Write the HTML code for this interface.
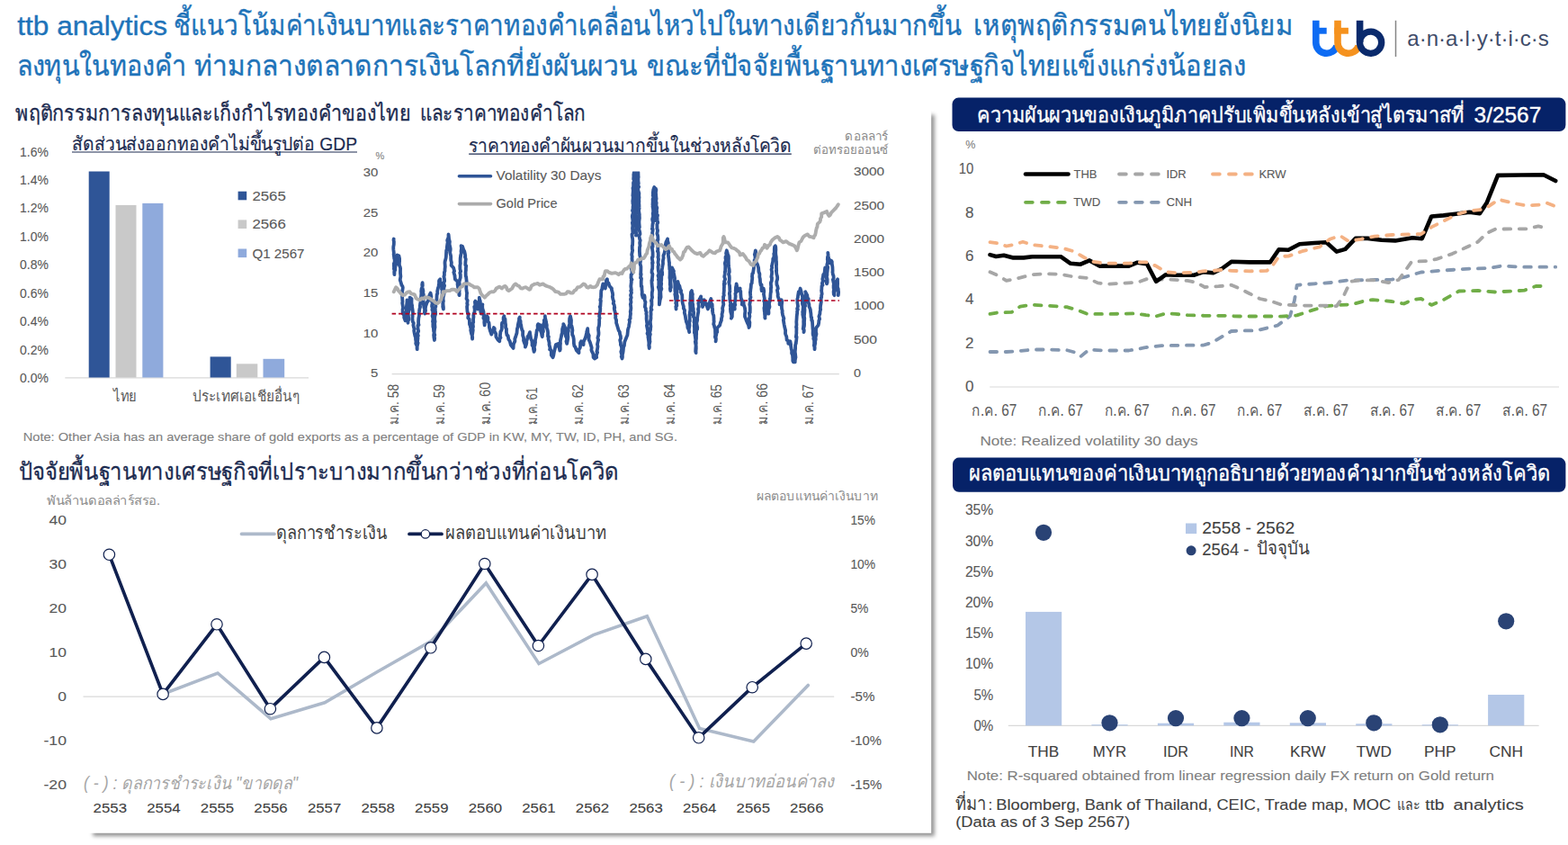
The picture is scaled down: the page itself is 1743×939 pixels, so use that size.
<!DOCTYPE html>
<html lang="th"><head><meta charset="utf-8"><title>ttb analytics</title>
<style>

html,body{margin:0;padding:0;background:#fff}
svg{display:block}
svg text{font-family:"Liberation Sans",sans-serif;white-space:pre}
</style></head>
<body>
<svg width="1743" height="939" viewBox="0 0 1743 939">
<rect width="1743" height="939" fill="#ffffff"/>
<defs><filter id="blur" x="-5%" y="-5%" width="110%" height="110%"><feGaussianBlur stdDeviation="1.9"/></filter></defs>
<rect x="103.4" y="127.6" width="935.4" height="801.6" fill="#000000" fill-opacity="0.42" filter="url(#blur)"/>
<rect x="96.0" y="120.0" width="939.2" height="805.8" fill="#ffffff"/>
<text x="19.3" textLength="166.7" lengthAdjust="spacingAndGlyphs" stroke="#1e73b9" stroke-width="0.35" y="39.3" font-size="29.00" fill="#1e73b9">ttb analytics</text>
<text class="th" x="193.0" y="39.4" font-size="31.70" fill="#1e73b9" stroke="#1e73b9" stroke-width="0.4" textLength="876.8" lengthAdjust="spacingAndGlyphs">ชี้แนวโน้มค่าเงินบาทและราคาทองคำเคลื่อนไหวไปในทางเดียวกันมากขึ้น</text>
<text class="th" x="1082.3" y="39.4" font-size="31.70" fill="#1e73b9" stroke="#1e73b9" stroke-width="0.4" textLength="354.7" lengthAdjust="spacingAndGlyphs">เหตุพฤติกรรมคนไทยยังนิยม</text>
<text class="th" x="18.6" y="83.5" font-size="31.70" fill="#1e73b9" stroke="#1e73b9" stroke-width="0.4" textLength="188.8" lengthAdjust="spacingAndGlyphs">ลงทุนในทองคำ</text>
<text class="th" x="215.9" y="83.5" font-size="31.70" fill="#1e73b9" stroke="#1e73b9" stroke-width="0.4" textLength="493.3" lengthAdjust="spacingAndGlyphs">ท่ามกลางตลาดการเงินโลกที่ยังผันผวน</text>
<text class="th" x="718.8" y="83.5" font-size="31.70" fill="#1e73b9" stroke="#1e73b9" stroke-width="0.4" textLength="665.9" lengthAdjust="spacingAndGlyphs">ขณะที่ปัจจัยพื้นฐานทางเศรษฐกิจไทยแข็งแกร่งน้อยลง</text>
<g fill="none" stroke-linecap="butt"><path d="M1462.8 22.8 V47.4 A11.85 11.85 0 0 0 1486 50.8" stroke="#0d6bf3" stroke-width="7.6"/><path d="M1459 34.25 H1474.7" stroke="#0d6bf3" stroke-width="6.9"/><path d="M1487 22.8 V47.4 A11.85 11.85 0 0 0 1510.2 50.8" stroke="#f5921e" stroke-width="7.6"/><path d="M1483.2 34.25 H1498.9" stroke="#f5921e" stroke-width="6.9"/><path d="M1511.6 22.8 V47.2" stroke="#0a2a6c" stroke-width="7.6"/><circle cx="1523.6" cy="47.2" r="12.1" stroke="#0a2a6c" stroke-width="7.3"/></g>
<line x1="1551.5" y1="22.8" x2="1551.5" y2="63.0" stroke="#858585" stroke-width="1.5"/>
<text x="1564.3" textLength="157.5" lengthAdjust="spacingAndGlyphs" y="51.4" font-size="24.00" fill="#3f4c69">a·n·a·l·y·t·i·c·s</text>
<text class="th" x="17.2" y="134.0" font-size="23.60" fill="#1c2b50" stroke="#1c2b50" stroke-width="0.3" textLength="439.6" lengthAdjust="spacingAndGlyphs">พฤติกรรมการลงทุนและเก็งกำไรทองคำของไทย</text>
<text class="th" x="466.7" y="134.0" font-size="23.60" fill="#1c2b50" stroke="#1c2b50" stroke-width="0.3" textLength="183.9" lengthAdjust="spacingAndGlyphs">และราคาทองคำโลก</text>
<text class="th" x="80.0" y="167.0" font-size="21.09" fill="#1c2b50" stroke="#1c2b50" stroke-width="0.2" textLength="317.0" lengthAdjust="spacingAndGlyphs">สัดส่วนส่งออกทองคำไม่ขึ้นรูปต่อ GDP</text>
<line x1="80.0" y1="169.0" x2="397.0" y2="169.0" stroke="#1c2b50" stroke-width="1.2"/>
<text class="th" x="521.2" y="168.8" font-size="21.26" fill="#1c2b50" stroke="#1c2b50" stroke-width="0.2" textLength="358.6" lengthAdjust="spacingAndGlyphs">ราคาทองคำผันผวนมากขึ้นในช่วงหลังโควิด</text>
<line x1="521.2" y1="171.2" x2="879.8" y2="171.2" stroke="#1c2b50" stroke-width="1.3"/>
<text x="22.0" textLength="31.8" lengthAdjust="spacingAndGlyphs" stroke="#595959" stroke-width="0.1" y="173.5" font-size="14.20" fill="#595959">1.6%</text>
<text x="22.0" textLength="31.8" lengthAdjust="spacingAndGlyphs" stroke="#595959" stroke-width="0.1" y="204.9" font-size="14.20" fill="#595959">1.4%</text>
<text x="22.0" textLength="31.8" lengthAdjust="spacingAndGlyphs" stroke="#595959" stroke-width="0.1" y="236.3" font-size="14.20" fill="#595959">1.2%</text>
<text x="22.0" textLength="31.8" lengthAdjust="spacingAndGlyphs" stroke="#595959" stroke-width="0.1" y="267.8" font-size="14.20" fill="#595959">1.0%</text>
<text x="22.0" textLength="31.8" lengthAdjust="spacingAndGlyphs" stroke="#595959" stroke-width="0.1" y="299.2" font-size="14.20" fill="#595959">0.8%</text>
<text x="22.0" textLength="31.8" lengthAdjust="spacingAndGlyphs" stroke="#595959" stroke-width="0.1" y="330.6" font-size="14.20" fill="#595959">0.6%</text>
<text x="22.0" textLength="31.8" lengthAdjust="spacingAndGlyphs" stroke="#595959" stroke-width="0.1" y="362.0" font-size="14.20" fill="#595959">0.4%</text>
<text x="22.0" textLength="31.8" lengthAdjust="spacingAndGlyphs" stroke="#595959" stroke-width="0.1" y="393.5" font-size="14.20" fill="#595959">0.2%</text>
<text x="22.0" textLength="31.8" lengthAdjust="spacingAndGlyphs" stroke="#595959" stroke-width="0.1" y="424.9" font-size="14.20" fill="#595959">0.0%</text>
<line x1="72.3" y1="419.8" x2="343.0" y2="419.8" stroke="#d9d9d9" stroke-width="1.2"/>
<rect x="98.7" y="190.5" width="23.0" height="229.0" fill="#2f5597"/>
<rect x="128.5" y="227.9" width="23.0" height="191.6" fill="#c9c9c9"/>
<rect x="158.3" y="225.9" width="23.1" height="193.6" fill="#8faadc"/>
<rect x="233.6" y="396.4" width="23.1" height="23.1" fill="#2f5597"/>
<rect x="262.8" y="404.3" width="23.5" height="15.2" fill="#c9c9c9"/>
<rect x="292.5" y="398.8" width="23.7" height="20.7" fill="#8faadc"/>
<rect x="264.6" y="212.7" width="9.6" height="9.6" fill="#2f5597"/>
<text x="280.4" textLength="37.4" lengthAdjust="spacingAndGlyphs" stroke="#595959" stroke-width="0.1" y="222.7" font-size="14.40" fill="#595959">2565</text>
<rect x="264.6" y="244.4" width="9.6" height="9.6" fill="#c9c9c9"/>
<text x="280.4" textLength="37.4" lengthAdjust="spacingAndGlyphs" stroke="#595959" stroke-width="0.1" y="254.4" font-size="14.40" fill="#595959">2566</text>
<rect x="264.6" y="276.5" width="9.6" height="9.6" fill="#8faadc"/>
<text x="280.4" textLength="58.1" lengthAdjust="spacingAndGlyphs" stroke="#595959" stroke-width="0.1" y="286.5" font-size="14.40" fill="#595959">Q1 2567</text>
<text class="th" x="125.8" y="446.4" font-size="17.25" fill="#595959" textLength="25.7" lengthAdjust="spacingAndGlyphs">ไทย</text>
<text class="th" x="213.9" y="446.4" font-size="16.87" fill="#595959" textLength="119.3" lengthAdjust="spacingAndGlyphs">ประเทศเอเชียอื่นๆ</text>
<text x="25.7" textLength="727.3" lengthAdjust="spacingAndGlyphs" stroke="#808080" stroke-width="0.1" y="489.6" font-size="13.00" fill="#808080">Note: Other Asia has an average share of gold exports as a percentage of GDP in KW, MY, TW, ID, PH, and SG.</text>
<text x="403.7" textLength="16.6" lengthAdjust="spacingAndGlyphs" stroke="#595959" stroke-width="0.1" y="195.9" font-size="12.50" fill="#595959">30</text>
<text x="403.7" textLength="16.6" lengthAdjust="spacingAndGlyphs" stroke="#595959" stroke-width="0.1" y="240.6" font-size="12.50" fill="#595959">25</text>
<text x="403.7" textLength="16.6" lengthAdjust="spacingAndGlyphs" stroke="#595959" stroke-width="0.1" y="285.3" font-size="12.50" fill="#595959">20</text>
<text x="403.7" textLength="16.6" lengthAdjust="spacingAndGlyphs" stroke="#595959" stroke-width="0.1" y="330.0" font-size="12.50" fill="#595959">15</text>
<text x="403.7" textLength="16.6" lengthAdjust="spacingAndGlyphs" stroke="#595959" stroke-width="0.1" y="374.7" font-size="12.50" fill="#595959">10</text>
<text x="412.0" textLength="8.3" lengthAdjust="spacingAndGlyphs" stroke="#595959" stroke-width="0.1" y="419.4" font-size="12.50" fill="#595959">5</text>
<text x="422.4" text-anchor="middle" stroke="#7f7f7f" stroke-width="0.1" y="177.1" font-size="11.00" fill="#7f7f7f">%</text>
<text x="948.9" textLength="34.2" lengthAdjust="spacingAndGlyphs" stroke="#595959" stroke-width="0.1" y="195.2" font-size="12.50" fill="#595959">3000</text>
<text x="948.9" textLength="34.2" lengthAdjust="spacingAndGlyphs" stroke="#595959" stroke-width="0.1" y="232.5" font-size="12.50" fill="#595959">2500</text>
<text x="948.9" textLength="34.2" lengthAdjust="spacingAndGlyphs" stroke="#595959" stroke-width="0.1" y="269.8" font-size="12.50" fill="#595959">2000</text>
<text x="948.9" textLength="34.2" lengthAdjust="spacingAndGlyphs" stroke="#595959" stroke-width="0.1" y="307.1" font-size="12.50" fill="#595959">1500</text>
<text x="948.9" textLength="34.2" lengthAdjust="spacingAndGlyphs" stroke="#595959" stroke-width="0.1" y="344.4" font-size="12.50" fill="#595959">1000</text>
<text x="948.9" textLength="26.0" lengthAdjust="spacingAndGlyphs" stroke="#595959" stroke-width="0.1" y="381.7" font-size="12.50" fill="#595959">500</text>
<text x="948.9" textLength="8.0" lengthAdjust="spacingAndGlyphs" stroke="#595959" stroke-width="0.1" y="419.0" font-size="12.50" fill="#595959">0</text>
<text class="th" x="939.3" y="155.9" font-size="13.20" fill="#8a8a8a" textLength="48.2" lengthAdjust="spacingAndGlyphs">ดอลลาร์</text>
<text class="th" x="904.0" y="171.3" font-size="13.20" fill="#8a8a8a" textLength="83.5" lengthAdjust="spacingAndGlyphs">ต่อทรอยออนซ์</text>
<line x1="435.6" y1="415.6" x2="932.8" y2="415.6" stroke="#d9d9d9" stroke-width="1.2"/>
<clipPath id="cpv"><rect x="430" y="190.5" width="510" height="226"/></clipPath>
<polyline points="437.7,265.5 437.5,266.7 437.9,268.7 437.8,271.7 437.3,274.4 437.3,276.3 437.4,277.5 437.9,281.9 437.6,282.3 438.2,286.7 438.2,287.2 438.7,288.4 438.6,291.3 437.8,293.0 438.0,297.3 437.9,298.8 438.5,300.4 438.5,301.6 438.4,305.2 438.2,301.9 439.3,300.1 439.2,298.2 439.7,294.9 440.5,293.7 440.2,290.9 440.9,289.4 441.4,285.2 441.5,283.4 443.4,284.2 444.1,287.3 444.1,290.4 443.9,291.9 443.9,294.7 444.8,296.8 445.1,298.3 445.0,301.5 445.0,303.4 445.4,307.2 445.1,308.7 444.7,311.1 445.3,312.8 446.5,316.9 447.4,317.9 447.8,319.7 447.3,323.2 446.9,324.9 447.1,326.2 447.1,330.5 447.2,331.3 447.5,335.6 447.2,336.7 447.8,340.3 448.2,342.6 447.6,343.6 447.7,347.4 447.9,348.6 449.3,350.1 449.2,352.9 450.5,356.3 450.3,353.9 451.0,351.0 450.5,349.1 451.1,347.3 452.0,345.4 451.7,342.8 452.1,338.8 452.6,338.7 452.7,336.5 452.5,333.3 452.5,335.3 452.2,338.3 452.3,339.0 452.5,341.6 452.8,343.6 452.5,346.2 452.7,349.1 452.7,353.0 453.5,353.1 453.1,356.1 453.5,358.8 453.5,355.4 454.3,355.6 454.0,351.8 453.7,348.3 454.2,346.4 454.9,343.8 454.1,343.8 454.9,339.0 455.1,336.3 455.3,336.8 455.8,333.7 455.6,330.7 457.6,332.0 457.5,333.9 457.5,337.3 458.1,339.6 458.0,340.2 458.7,344.8 458.9,346.5 459.0,348.6 458.4,350.1 458.7,350.9 458.4,354.0 458.8,357.5 459.8,359.0 459.4,361.4 460.3,365.1 460.7,365.4 460.2,367.2 460.5,369.3 461.4,373.6 462.0,374.5 462.0,376.7 462.5,379.9 462.2,381.8 463.5,384.5 463.7,385.9 463.7,388.2 463.5,386.8 463.8,384.5 464.6,381.0 464.0,380.4 464.5,375.8 463.9,373.4 464.9,373.1 464.1,370.8 465.2,368.0 464.6,365.4 464.4,361.5 465.5,361.1 465.1,359.6 465.1,357.1 465.3,353.7 466.0,350.3 465.7,348.0 466.0,346.3 466.4,343.3 467.1,341.0 466.8,339.9 467.3,336.4 467.8,335.5 467.8,333.3 468.1,329.9 468.4,326.1 468.5,324.3 468.2,324.0 468.6,320.7 469.5,318.7 469.2,316.4 469.6,314.1 469.8,317.2 469.4,318.7 469.7,320.1 470.4,323.0 470.3,325.9 470.8,327.2 470.6,329.6 470.6,332.3 470.6,334.1 470.8,337.5 470.9,338.4 471.5,342.1 472.1,342.8 471.9,347.4 472.2,348.6 473.1,345.0 472.8,343.3 473.2,340.2 473.7,338.9 474.7,335.8 476.0,334.5 476.2,331.4 477.8,327.1 478.6,325.6 479.4,329.6 479.0,332.1 479.5,333.2 480.6,336.8 480.4,338.4 480.1,340.4 480.7,342.3 480.4,344.5 481.2,345.8 481.1,349.2 480.6,351.1 481.5,353.8 481.0,357.5 482.0,359.6 481.3,359.7 481.4,363.4 481.8,363.7 482.1,368.2 482.7,368.5 482.1,372.7 482.7,374.2 482.3,374.5 482.9,378.0 483.2,375.6 482.5,374.9 483.3,372.3 482.7,370.3 482.8,368.1 483.3,364.3 483.5,363.9 483.2,359.3 483.6,357.4 483.2,355.0 483.2,352.9 483.5,351.0 484.2,348.8 483.9,346.2 483.8,343.6 483.8,341.3 484.4,340.7 484.2,338.4 484.1,336.1 485.4,332.7 485.5,331.5 485.5,330.4 485.7,327.2 486.3,326.4 486.2,323.7 486.8,320.5 487.6,318.3 487.9,314.9 488.1,311.7 489.3,310.3 489.5,313.6 490.4,314.4 491.4,317.9 491.0,321.3 492.1,323.1 491.5,324.1 491.7,327.1 491.6,329.4 491.9,333.3 492.9,334.4 492.2,337.9 492.4,338.4 492.2,340.8 492.9,343.5 492.9,341.2 492.6,339.0 492.5,336.0 492.6,334.1 492.6,330.7 493.0,329.1 493.4,327.7 493.6,325.8 493.7,324.2 493.3,320.3 494.1,317.5 493.8,316.7 493.1,315.0 494.2,312.1 494.0,310.4 493.4,307.2 493.9,305.9 493.9,302.6 494.5,301.3 494.5,299.2 494.8,296.4 494.5,292.1 494.6,290.8 494.8,290.0 495.6,287.1 495.9,285.0 496.0,282.1 496.2,278.2 496.9,278.1 496.8,275.0 497.3,271.2 497.7,269.3 497.2,267.0 498.2,264.4 498.5,264.3 498.5,260.4 498.8,262.4 499.1,265.7 499.7,267.8 499.9,268.5 499.6,271.4 500.3,274.5 500.7,276.2 500.7,277.6 500.2,280.6 501.1,284.1 501.2,285.2 501.2,288.0 501.3,289.2 501.9,291.8 501.6,294.9 504.1,297.5 505.1,301.4 504.3,302.5 505.6,306.6 505.5,307.0 505.9,310.3 508.7,312.8 508.6,316.4 508.9,317.5 509.1,319.5 510.3,320.5 510.4,323.8 510.7,326.6 510.5,328.2 510.3,327.1 510.7,322.3 510.2,321.4 510.8,318.6 510.5,316.5 510.8,315.8 510.5,313.3 511.6,309.1 511.8,308.7 511.8,305.2 511.3,303.2 512.1,301.6 511.4,298.9 511.4,295.5 511.3,295.6 511.8,292.4 511.6,291.3 511.7,286.9 512.1,284.3 512.0,284.2 512.8,281.3 512.5,279.2 513.0,275.7 512.6,273.2 514.1,273.8 515.1,277.0 516.3,279.4 516.9,282.1 517.3,284.9 516.9,285.4 517.8,288.0 517.4,291.0 517.3,294.5 518.2,295.4 517.9,297.8 517.9,300.4 517.6,302.1 517.7,306.6 518.2,307.7 518.3,309.1 518.8,313.7 518.4,313.4 518.1,315.5 518.4,317.8 518.3,320.5 518.8,324.7 519.1,325.5 518.8,328.1 518.8,329.8 518.5,331.9 519.7,333.7 519.2,337.4 519.7,338.4 519.1,340.8 519.3,343.6 519.5,346.1 520.5,349.3 520.8,349.0 520.2,353.3 521.7,354.7 521.8,355.5 522.0,360.5 522.5,361.4 523.3,364.7 523.8,365.0 523.2,366.9 524.0,370.7 524.9,373.0 524.9,375.3 525.1,376.7 525.2,374.6 524.8,372.9 525.2,371.0 525.8,366.8 525.3,364.3 526.0,363.3 525.5,359.0 526.2,358.2 526.1,354.8 526.5,351.8 526.3,350.8 526.6,348.6 527.5,346.7 527.7,343.9 527.2,340.8 528.4,339.9 527.9,335.5 528.4,334.6 529.1,337.3 529.6,338.3 530.5,342.5 531.0,343.5 531.0,339.6 531.5,338.2 532.3,334.9 532.8,334.0 532.8,330.7 533.0,332.1 533.8,334.6 533.9,336.6 533.5,340.5 533.8,343.3 534.3,343.2 534.2,346.1 534.8,348.6 535.4,347.4 535.2,343.2 535.6,342.4 536.4,338.4 536.2,339.4 536.3,342.7 537.5,346.4 537.6,349.1 538.0,349.4 537.4,353.5 538.3,353.1 538.4,356.4 538.3,358.6 538.7,361.4 538.9,357.4 539.7,355.8 541.1,352.6 541.2,351.2 542.4,352.9 542.3,357.3 543.5,358.6 543.8,361.4 543.9,363.9 544.9,367.8 545.3,368.7 546.3,371.6 547.7,367.7 547.9,367.5 548.9,364.0 549.8,365.1 549.6,367.8 551.3,370.9 551.4,374.2 553.7,377.9 555.3,379.3 555.4,376.4 556.5,375.2 555.9,373.2 556.3,369.7 556.3,368.9 557.7,366.3 558.0,362.2 557.8,361.4 558.1,358.8 559.7,357.7 559.6,353.0 560.4,351.2 560.6,353.4 561.5,354.7 561.7,358.6 562.1,360.9 562.1,361.8 562.1,364.2 563.0,365.6 562.9,369.1 563.5,372.4 564.6,372.9 565.3,376.9 566.8,379.3 567.8,383.3 569.8,385.9 570.6,387.0 570.8,383.2 571.1,381.9 572.4,379.1 572.3,376.5 573.2,374.2 573.8,372.2 574.5,370.1 574.9,365.4 575.6,363.3 575.7,361.4 576.3,358.8 577.0,356.0 577.0,353.9 577.8,352.5 577.7,355.9 578.6,356.5 578.7,360.8 579.2,360.9 579.6,364.0 580.4,367.0 581.2,367.9 581.1,372.6 582.0,375.4 582.1,376.7 582.0,378.4 582.6,380.3 584.0,383.7 583.9,385.7 584.9,383.0 585.4,380.9 585.2,379.6 586.5,375.3 586.5,374.2 587.9,372.0 589.0,369.1 589.2,371.2 589.6,373.3 590.3,377.0 591.2,378.4 591.6,381.9 591.5,383.6 592.8,385.4 592.9,387.7 593.6,390.8 594.3,388.6 593.7,384.8 594.5,383.8 595.1,380.0 594.8,379.4 595.4,375.8 595.6,375.4 596.2,371.6 596.4,369.5 596.8,366.8 597.8,366.2 597.6,361.5 598.2,360.1 600.8,361.4 601.5,363.1 601.0,367.7 601.9,370.0 602.3,372.8 602.8,374.2 603.1,370.9 602.9,369.7 603.9,368.5 603.6,365.3 604.2,362.7 604.2,359.7 605.0,359.4 604.8,355.8 606.0,354.9 605.9,351.2 605.9,352.6 607.1,357.7 606.9,357.5 607.8,361.1 607.7,364.0 608.5,366.5 608.8,367.3 609.1,369.7 609.0,373.8 609.9,374.0 609.5,376.8 610.2,379.3 610.6,381.1 610.5,382.9 611.6,387.1 611.1,388.3 612.4,388.9 612.8,391.3 612.8,394.6 614.6,397.2 615.3,395.0 615.8,391.9 616.1,390.4 616.7,388.3 617.3,385.3 617.9,383.1 620.5,381.9 620.5,384.8 621.6,386.2 622.3,389.5 622.8,388.1 622.7,384.1 623.0,381.6 622.8,380.4 623.0,378.2 623.8,374.7 624.2,372.6 624.3,371.6 625.0,370.2 625.1,365.7 625.5,364.4 626.5,361.3 626.3,360.1 628.1,364.0 628.8,367.7 628.9,369.4 628.5,372.1 629.1,374.3 629.9,374.1 630.0,378.7 629.4,379.2 630.2,381.9 630.8,378.6 631.2,376.6 631.4,374.0 631.3,374.0 631.2,369.8 631.9,367.7 631.6,365.0 632.0,365.0 632.7,361.4 633.3,360.0 633.0,357.1 633.2,353.8 634.0,351.2 634.4,353.0 635.0,355.8 634.9,359.0 634.6,361.6 635.4,362.0 635.9,363.9 636.4,367.1 636.1,369.1 636.2,372.1 636.6,372.5 637.3,374.3 637.8,377.1 637.9,381.5 638.1,382.7 638.4,384.4 639.4,385.5 640.9,389.5 643.5,392.1 643.4,388.5 644.6,386.8 645.0,385.6 645.1,381.0 646.0,379.3 647.5,379.8 648.6,383.1 648.6,380.5 649.4,378.2 650.2,376.7 651.1,374.2 651.8,371.1 652.3,369.6 652.2,368.8 653.2,365.2 653.3,366.5 653.5,370.3 654.8,373.1 654.6,373.9 654.5,377.4 655.5,379.3 656.1,381.0 656.8,383.4 657.7,386.4 657.4,389.0 657.7,390.0 658.8,392.1 659.4,393.4 659.6,397.2 660.9,398.5 663.2,397.2 662.8,395.1 664.1,391.6 663.4,390.8 663.9,388.7 664.5,385.0 664.1,383.2 664.0,382.7 664.7,379.3 665.2,377.6 664.4,375.6 665.4,372.1 665.5,369.7 665.1,366.3 665.2,363.8 665.5,363.5 666.0,361.5 666.2,357.4 666.1,355.5 666.6,353.4 666.1,351.4 666.5,348.6 667.2,345.4 667.3,342.5 666.7,340.9 667.4,340.7 667.6,336.5 667.9,334.2 667.3,333.6 667.9,330.6 668.1,329.1 668.1,326.4 668.3,323.1 669.2,321.6 669.6,318.6 670.3,315.4 671.7,317.4 672.9,320.5 673.0,318.3 673.4,316.6 674.0,311.4 674.9,310.3 675.3,314.1 676.4,314.3 677.5,317.9 680.0,320.5 679.8,321.4 680.9,325.4 681.2,327.9 680.8,329.7 681.4,332.6 682.3,335.1 681.7,337.3 682.6,338.4 683.3,342.0 682.7,342.1 682.9,343.8 684.1,348.4 684.1,350.7 684.4,351.4 684.1,353.1 685.1,355.7 685.1,358.8 685.9,361.2 686.5,363.2 687.7,367.2 688.9,369.1 689.0,370.8 689.9,373.6 690.0,376.2 689.2,377.9 689.9,381.2 689.9,383.3 690.4,384.1 691.0,385.9 691.1,388.4 690.3,390.8 691.4,395.4 690.7,396.2 691.5,398.5 691.9,397.0 691.9,393.7 692.4,392.3 692.7,390.3 693.1,385.7 693.9,384.2 694.1,381.9 694.4,379.7 695.3,377.6 696.6,374.2 697.4,372.5 697.8,368.6 698.0,366.2 699.1,362.7 699.2,361.4 700.0,357.4 699.5,355.6 700.7,353.7 700.5,352.3 701.0,348.6 700.7,346.2 701.1,344.8 701.4,342.2 701.0,339.0 700.8,338.3 701.5,335.7 701.0,332.5 701.7,330.7 701.0,328.1 702.0,325.1 701.2,323.0 701.9,322.4 701.3,318.0 701.5,316.3 701.8,313.5 701.7,311.3 702.5,310.7 701.5,309.1 701.6,305.1 702.7,304.1 702.4,300.7 701.8,299.0 701.8,295.5 702.2,292.7 702.3,292.7 702.7,289.5 702.5,287.3 702.7,284.9 702.2,283.1 702.5,281.3 703.2,278.1 702.8,276.9 702.7,273.1 703.1,272.8 703.2,270.0 703.3,267.8 703.1,264.9 702.7,263.2 702.5,260.3 703.4,259.0 703.2,255.3 703.0,253.7 703.3,251.4 703.4,250.7 702.9,247.6 703.6,244.6 703.3,244.2 702.8,240.6 703.0,239.1 704.0,236.1 703.0,234.0 703.6,232.2 703.6,229.8 704.0,227.2 703.5,226.3 703.3,223.2 703.6,221.3 703.8,218.2 703.4,217.5 703.8,212.4 703.8,211.2 703.5,209.0 704.1,207.6 704.1,204.1 704.0,203.3 705.0,200.4 704.2,199.0 704.5,195.0 704.3,194.5 704.8,191.4 706.3,191.4 706.7,194.1 706.3,196.1 706.1,199.6 706.2,200.9 706.8,203.7 706.4,204.4 706.5,206.1 706.9,209.1 706.9,211.1 706.4,213.3 706.5,215.4 706.0,219.3 706.3,220.1 706.4,223.1 706.6,225.8 706.9,227.3 707.2,231.0 706.2,233.2 707.2,235.3 706.3,237.7 706.9,237.6 706.2,242.6 707.0,242.8 706.3,244.7 706.5,248.9 706.7,249.3 707.4,253.5 706.5,256.1 707.1,258.0 707.2,260.6 707.0,261.7 707.3,260.4 706.6,257.7 707.1,255.6 707.0,253.8 707.1,249.7 706.8,247.0 707.1,244.5 707.1,242.5 707.1,241.3 707.2,240.1 706.6,237.8 707.2,234.7 707.4,233.2 707.1,229.7 707.8,226.4 707.5,225.8 706.8,223.5 707.6,222.2 707.2,220.1 707.4,216.3 707.9,212.7 707.7,212.2 707.3,210.6 707.3,207.2 707.5,205.8 707.2,202.5 707.4,200.6 707.9,197.6 708.0,195.6 707.6,193.0 707.6,191.4 709.4,191.4 709.5,195.1 709.7,196.9 709.4,197.7 709.4,200.9 709.8,203.7 709.2,205.9 710.2,207.6 709.3,209.2 709.3,211.2 710.4,214.7 710.2,217.6 710.5,219.3 710.2,221.7 710.4,223.9 710.2,225.9 710.4,227.3 710.5,230.4 710.6,231.6 710.0,233.7 710.8,238.6 710.7,239.2 710.9,242.8 710.7,243.5 710.4,246.3 710.5,248.6 710.9,252.4 710.3,253.6 710.3,254.5 711.3,258.2 711.5,260.1 710.4,262.2 711.2,266.1 711.7,267.0 711.2,269.4 711.2,270.5 711.5,273.1 711.0,274.8 710.9,279.1 711.1,282.2 711.2,284.2 711.3,283.9 712.1,286.9 712.2,289.0 711.5,293.1 712.3,295.6 712.4,295.6 712.4,299.7 712.3,302.7 712.1,305.1 712.7,304.5 712.0,308.7 713.0,309.3 712.7,312.8 712.7,315.8 712.8,318.4 713.4,318.2 713.5,322.0 713.8,324.5 713.6,327.1 714.1,328.9 714.5,330.7 716.3,328.2 716.7,330.2 716.6,333.6 717.5,335.8 717.3,336.6 716.9,341.0 717.9,342.8 717.7,344.4 718.7,347.3 718.3,348.6 718.7,350.4 718.6,354.4 718.8,356.1 719.2,359.1 719.6,359.6 718.9,361.9 719.6,365.1 720.2,368.4 719.5,370.5 720.6,373.0 720.4,374.2 720.7,376.1 721.3,380.2 721.4,383.1 721.2,383.2 721.7,387.0 721.9,385.6 721.6,383.3 722.5,379.5 722.3,378.6 722.2,375.0 722.1,374.4 722.9,371.3 722.1,370.2 723.1,366.2 723.0,366.0 723.4,362.7 723.1,360.6 722.8,357.2 723.0,356.6 723.5,353.7 723.4,351.6 723.6,349.1 723.4,345.4 724.5,344.1 723.6,342.5 724.5,338.8 724.4,337.0 724.4,333.7 723.9,334.3 725.1,330.5 724.7,328.2 724.8,325.3 725.1,323.5 725.3,322.4 725.2,320.8 724.6,315.8 724.5,314.0 724.4,311.4 725.0,311.7 724.9,309.7 725.4,304.8 725.1,303.6 724.5,303.1 724.7,299.7 725.2,298.7 725.3,294.8 725.0,291.9 725.7,292.2 724.8,287.2 724.9,285.9 725.6,285.4 725.6,280.6 725.6,280.4 725.4,279.0 724.7,274.3 725.6,274.4 725.5,270.3 725.4,269.5 724.9,266.0 725.1,263.2 725.4,261.1 725.1,258.9 725.6,256.3 725.7,254.6 724.9,254.6 725.2,252.4 725.5,248.9 726.0,247.8 725.2,244.2 725.2,243.4 726.1,240.3 725.7,237.2 726.2,235.3 726.0,232.1 725.5,229.5 726.2,228.8 725.5,227.5 725.7,223.8 725.6,221.2 726.5,219.1 725.7,217.3 726.0,216.3 725.8,214.3 726.3,210.6 727.3,208.0 726.8,211.5 727.6,211.8 727.4,214.3 727.2,216.4 727.4,221.1 728.2,223.2 727.1,223.6 728.2,225.2 728.0,228.2 728.4,229.7 728.2,233.0 727.4,234.3 728.3,238.2 727.6,240.3 728.5,241.9 728.1,245.1 728.2,241.8 727.8,241.4 728.5,237.5 727.8,234.9 728.4,233.9 728.1,230.8 728.5,230.0 728.8,227.4 728.1,223.6 728.8,222.4 728.9,219.1 729.0,217.7 729.1,217.1 728.7,212.3 729.3,211.5 728.8,209.3 729.4,210.9 728.8,214.9 729.1,215.2 729.3,218.8 729.6,220.8 729.1,223.2 729.7,225.4 729.4,228.3 730.4,231.1 729.9,232.9 730.1,235.4 729.8,238.0 731.0,239.2 730.5,241.6 730.6,243.8 730.7,244.6 731.3,247.4 730.4,249.2 730.5,253.6 730.3,253.6 731.1,256.1 730.4,259.6 731.1,261.5 731.3,262.5 731.5,266.5 730.6,267.0 731.2,270.3 731.0,271.4 731.2,273.6 731.4,278.0 730.9,279.3 731.7,280.3 731.8,284.9 731.4,285.5 732.0,288.0 731.5,291.5 731.6,292.4 732.0,294.2 731.5,296.5 731.8,300.7 732.3,302.8 732.3,304.9 731.5,306.2 732.6,309.8 731.9,310.5 732.4,312.7 732.3,314.1 732.3,317.7 731.8,318.9 733.0,323.1 733.1,325.0 733.0,328.0 733.1,327.8 732.9,330.8 733.0,333.1 732.9,337.4 732.9,338.4 733.4,335.1 733.7,333.1 734.6,330.1 734.5,328.2 734.4,326.3 734.3,323.7 735.4,321.1 734.7,318.6 735.2,315.3 734.8,312.9 735.2,311.4 735.3,308.5 735.2,307.1 736.2,304.9 736.1,302.7 735.7,300.5 736.2,297.5 736.5,295.4 737.0,293.0 736.9,290.1 737.1,288.8 737.6,286.8 737.4,283.9 738.3,282.1 739.1,278.8 739.2,277.0 739.3,275.9 739.7,272.7 740.3,269.4 742.1,265.5 741.9,266.6 742.9,270.2 742.0,272.4 742.6,275.9 742.4,276.8 743.5,280.7 742.7,281.9 743.1,285.4 743.4,287.3 743.7,290.5 744.0,291.8 744.0,294.7 744.2,296.1 744.3,299.1 744.6,299.6 744.6,301.4 744.6,305.4 744.4,308.8 744.6,309.4 745.0,313.0 744.9,313.7 744.8,316.2 745.2,318.0 744.9,321.0 745.2,323.1 745.2,320.2 745.9,319.5 745.7,315.9 745.5,313.2 745.6,311.7 746.3,307.9 746.8,306.3 746.9,305.5 747.2,301.3 746.7,301.0 747.0,297.5 749.0,301.3 748.6,302.3 749.5,306.1 750.1,309.3 749.8,312.3 750.0,313.2 750.3,315.2 750.3,317.9 750.3,320.5 750.4,323.9 750.9,325.0 750.3,326.9 750.8,329.7 751.1,333.0 751.7,334.2 751.2,336.9 751.9,338.4 751.5,342.1 751.6,343.5 751.3,340.6 752.4,339.8 752.0,335.3 752.6,334.6 752.7,333.2 752.9,329.1 752.1,326.4 752.7,324.6 752.4,321.3 753.1,320.2 752.9,319.0 753.4,313.8 753.4,312.8 754.3,316.2 755.4,317.9 756.1,321.1 757.2,323.1 756.9,324.7 758.2,327.7 758.3,328.7 758.4,332.0 758.4,334.5 759.0,337.7 759.3,338.4 759.9,340.7 759.8,342.5 761.1,344.9 760.8,347.6 761.8,351.2 762.3,354.7 763.0,357.2 762.8,357.4 764.2,360.9 764.4,364.0 765.5,366.1 766.2,369.1 765.8,366.1 765.8,365.7 766.5,361.8 766.4,359.6 766.0,358.9 766.8,356.8 766.7,353.5 766.5,349.5 767.4,349.7 766.8,347.5 767.5,343.5 767.3,343.2 767.3,340.9 767.0,336.9 767.7,334.1 767.3,333.8 767.6,331.3 767.7,328.2 768.0,324.6 769.0,323.1 769.0,324.4 769.9,327.0 769.6,328.7 769.8,331.8 769.8,333.1 769.7,337.7 770.2,338.2 770.2,340.6 770.8,343.5 770.6,344.4 771.2,347.6 770.8,350.9 770.8,351.9 771.9,353.8 771.5,358.2 772.1,358.4 771.7,362.4 772.0,364.0 772.0,367.7 771.9,370.0 772.4,370.2 772.5,372.2 772.9,375.0 773.3,378.3 772.8,379.6 773.2,381.8 773.6,383.9 773.3,387.5 773.2,390.6 773.6,392.1 773.5,390.3 773.8,387.0 773.7,384.1 773.5,384.1 773.8,381.3 773.6,378.7 774.0,376.3 774.0,372.7 774.2,371.0 774.0,370.2 774.3,367.0 775.1,365.8 775.2,363.8 774.4,359.8 774.4,358.8 775.2,355.5 775.1,353.7 775.3,352.0 775.9,348.5 776.3,346.6 776.3,343.8 775.9,343.8 776.9,340.9 776.3,336.7 777.1,335.8 777.4,332.8 778.3,331.2 779.2,329.4 779.0,331.2 780.1,333.1 780.7,336.6 780.9,337.9 781.0,341.0 781.5,338.9 782.0,334.3 782.8,333.3 784.2,336.7 784.8,338.4 785.6,339.6 786.9,343.5 788.0,341.3 787.7,337.6 788.9,335.8 790.4,332.0 790.3,335.3 790.7,338.0 791.6,337.9 791.8,341.2 792.2,344.9 791.9,345.0 792.5,348.6 793.3,350.6 793.5,353.6 793.5,356.2 793.7,357.2 793.2,360.2 793.9,361.8 794.3,364.0 795.0,365.4 795.0,367.7 795.2,372.5 794.8,374.3 795.9,377.2 795.6,379.3 795.9,376.4 795.6,374.5 796.3,371.8 796.5,369.4 797.3,368.9 797.0,365.4 797.6,364.0 800.2,361.4 800.8,358.7 802.0,355.8 801.8,354.9 802.7,351.2 802.5,349.1 802.9,347.5 803.4,345.1 803.1,342.5 803.9,339.6 804.3,338.4 803.7,334.4 804.2,331.9 804.0,329.8 804.8,328.2 804.5,326.5 804.9,322.5 804.8,321.3 805.0,318.1 804.7,315.3 805.9,315.3 805.0,312.9 806.1,310.2 805.2,307.7 805.7,304.5 805.9,301.7 806.5,301.3 806.2,299.9 806.3,295.6 805.9,293.0 805.8,292.6 806.9,288.9 806.5,287.3 806.5,285.4 807.6,284.1 807.1,281.4 807.8,278.3 808.7,281.3 808.6,281.8 809.8,284.5 809.9,287.3 809.8,289.7 809.9,292.8 809.8,292.7 810.2,296.7 810.6,299.2 810.8,302.2 810.4,303.2 810.0,304.8 810.6,306.5 810.8,309.0 810.6,313.7 810.2,313.2 810.7,315.9 811.1,317.6 811.3,322.4 811.4,323.4 810.8,326.4 811.2,328.2 811.3,330.3 811.3,332.6 811.8,336.1 812.3,336.5 811.7,339.6 812.2,341.7 811.9,343.2 812.2,346.6 813.2,350.3 813.2,352.8 812.9,353.7 813.8,351.9 813.9,348.0 814.0,347.5 813.9,345.2 814.9,342.7 814.9,340.0 815.0,338.4 815.7,342.1 816.8,343.5 816.4,340.2 817.3,338.7 816.7,337.0 817.2,334.4 817.4,331.9 817.7,329.1 817.4,326.1 818.4,324.9 817.7,323.5 818.0,318.9 818.5,317.0 818.6,315.4 819.2,318.1 819.6,320.7 820.6,323.1 822.7,320.5 822.4,322.8 823.3,323.7 823.3,325.9 823.6,330.5 824.0,332.3 824.5,332.8 825.0,336.8 824.7,338.4 826.7,335.8 826.5,339.1 827.1,339.3 828.1,342.7 828.1,343.7 828.4,345.7 828.0,348.9 828.0,351.8 828.8,353.7 829.5,355.7 830.8,358.8 832.0,361.2 832.6,364.0 833.2,362.1 833.3,359.7 833.4,358.4 832.6,355.7 832.9,353.6 833.4,351.5 832.8,347.9 833.7,347.4 833.8,342.5 833.7,340.4 833.7,340.3 833.3,338.4 834.1,334.1 833.6,332.5 834.5,330.6 834.2,328.2 833.9,324.5 834.1,324.5 834.4,321.5 834.7,319.6 835.0,315.7 835.8,314.6 835.8,313.2 836.3,308.5 836.0,307.7 836.3,304.1 837.0,303.7 837.8,298.7 838.0,297.5 837.8,296.0 838.7,292.4 838.6,289.3 839.3,287.6 839.6,285.8 838.8,282.6 839.2,281.9 839.8,278.3 840.1,279.3 839.8,282.6 840.4,285.6 840.5,287.2 840.3,290.3 841.1,292.4 841.9,293.5 843.1,297.5 843.4,301.5 843.3,301.5 844.4,304.5 844.3,307.7 844.9,310.3 845.0,313.0 845.6,316.8 846.6,316.5 846.4,321.3 846.7,323.1 848.7,320.5 849.3,323.5 849.1,325.3 848.9,326.5 849.6,330.5 849.9,332.1 849.2,334.6 849.9,336.0 849.8,337.8 849.9,340.2 849.4,342.2 849.8,346.3 850.1,346.7 850.0,348.5 850.2,350.4 850.5,353.7 850.2,352.6 851.0,349.1 851.4,346.4 851.1,343.5 851.6,342.0 852.3,340.5 852.8,337.6 852.6,335.8 853.4,338.6 852.8,340.0 853.7,345.0 853.8,346.9 854.4,348.6 854.5,347.5 854.3,344.0 855.5,341.1 855.0,338.1 855.1,336.6 856.0,334.1 855.8,331.8 856.3,331.5 856.4,328.2 856.7,324.9 857.0,324.8 856.9,319.8 857.3,319.9 856.9,315.3 856.9,314.1 857.8,312.1 858.0,308.4 857.4,307.7 858.0,304.3 858.1,301.7 857.5,299.6 858.2,297.5 857.9,295.7 858.6,293.1 859.2,290.2 859.3,287.3 860.2,286.7 860.5,283.0 860.2,282.1 860.8,280.6 860.8,276.5 861.0,274.4 861.8,273.2 862.2,274.2 862.4,277.4 862.2,280.1 862.3,282.5 862.5,283.7 862.8,285.7 862.8,289.4 863.0,290.3 863.1,294.5 862.9,294.6 863.0,297.5 863.2,301.2 862.8,300.7 863.4,305.0 863.9,306.5 864.2,308.5 864.1,310.4 863.3,312.9 863.5,316.4 864.2,317.8 864.8,320.7 863.9,322.5 864.8,327.1 864.6,328.2 864.7,329.3 865.9,332.5 866.7,335.8 866.6,338.4 867.8,335.4 868.7,333.3 869.3,335.4 868.9,339.0 868.9,340.7 869.0,342.7 869.7,345.6 869.5,346.9 870.1,350.2 870.5,351.2 871.4,354.1 870.8,355.5 871.3,358.6 871.6,360.5 872.3,364.0 873.1,366.9 873.0,370.6 873.4,371.8 874.3,374.2 874.6,377.8 876.1,378.6 876.3,381.9 878.4,379.3 879.1,382.8 879.0,383.9 879.7,388.1 880.2,389.5 880.1,392.6 881.0,394.5 881.3,398.3 881.3,400.9 882.0,402.3 883.8,402.3 883.7,400.9 884.4,396.9 884.5,397.1 883.9,392.0 883.8,392.7 883.8,390.2 884.1,387.5 884.1,383.6 884.9,381.1 884.6,381.4 885.1,379.1 885.6,374.3 884.8,374.4 885.4,369.9 885.3,369.1 885.4,366.0 885.4,363.3 885.0,363.7 885.5,361.1 885.3,357.7 885.5,355.2 885.6,353.7 885.7,351.6 886.2,347.5 886.1,346.3 886.9,343.6 886.1,343.2 887.0,340.2 886.4,336.3 886.5,333.7 886.3,332.7 886.9,330.6 887.1,328.2 887.8,324.1 889.0,323.5 889.6,320.5 890.4,323.2 891.2,327.1 891.7,328.2 892.2,331.1 891.8,332.2 891.9,336.4 891.9,336.9 892.1,338.5 892.9,340.3 892.5,345.4 892.2,346.7 892.4,347.8 892.3,349.7 893.2,354.0 893.4,354.1 893.2,357.2 893.3,360.1 893.0,363.7 892.7,365.3 893.8,366.8 893.5,369.1 893.7,368.3 893.3,365.0 894.0,362.0 894.1,359.8 894.0,358.2 894.2,355.1 894.3,353.5 893.9,351.5 894.0,350.2 894.3,347.4 894.5,344.4 894.2,341.2 895.1,340.1 894.8,337.8 895.2,334.7 894.5,334.2 894.9,331.5 895.5,330.0 895.6,325.2 895.3,324.3 897.3,328.2 897.7,331.7 898.7,332.1 898.4,335.1 899.4,338.4 899.4,340.5 900.7,343.6 900.8,344.8 901.4,348.6 901.6,352.3 902.2,352.9 902.2,356.1 902.9,356.3 903.1,359.2 903.2,361.0 903.4,364.0 903.5,365.7 903.7,366.9 903.6,370.8 903.7,371.8 904.6,374.3 904.3,376.4 905.1,378.2 905.1,382.7 904.8,383.6 905.7,386.4 905.5,388.2 905.5,384.7 905.8,383.4 906.3,381.0 906.1,379.9 906.8,376.8 906.5,375.2 907.3,371.9 907.5,371.2 907.0,368.9 907.1,364.9 907.5,364.0 909.6,361.4 910.2,358.5 910.3,356.3 911.1,354.5 910.4,351.5 911.4,348.6 911.5,346.2 912.2,343.8 911.9,343.0 912.1,339.5 912.4,338.2 912.8,335.7 912.6,331.3 913.2,330.6 913.2,328.2 913.7,326.7 913.1,322.7 913.3,322.2 913.5,317.7 914.5,316.9 913.9,314.9 914.8,312.0 914.3,310.3 914.9,307.7 915.2,305.2 916.5,303.6 917.0,299.0 917.2,297.5 917.3,299.8 917.1,303.4 917.6,303.5 917.9,305.7 918.8,308.8 918.6,310.7 918.3,312.6 919.0,315.4 919.6,314.0 919.6,310.1 918.9,307.1 919.4,305.8 919.4,303.8 919.7,301.2 920.0,298.4 920.2,297.1 919.3,294.1 919.9,292.1 920.1,289.5 919.8,288.7 919.9,286.1 920.6,283.4 920.3,280.9 920.7,284.5 921.1,286.6 921.0,287.6 922.1,288.7 922.4,292.4 924.2,289.8 924.8,290.7 924.8,293.2 925.4,296.6 925.5,298.6 925.6,301.3 925.4,302.1 925.9,305.2 926.5,306.4 926.7,308.9 925.9,310.8 926.9,315.7 926.6,317.1 926.6,320.2 927.2,320.2 926.6,324.2 926.8,326.9 927.5,328.2 927.5,325.2 928.1,323.2 928.3,320.6 929.0,318.9 929.2,316.2 929.4,316.5 929.3,312.8 931.1,310.3 931.0,311.1 931.1,315.2 931.0,317.1 931.0,319.1 931.8,321.2 931.8,322.5 932.1,324.8 931.8,328.2" fill="none" stroke="#2f5597" stroke-width="3.8" stroke-linejoin="round" stroke-linecap="round" clip-path="url(#cpv)"/>
<polyline points="437.7,324.3 438.9,321.9 440.2,319.2 441.9,320.8 442.8,322.9 444.1,324.3 445.7,326.3 447.9,328.2 449.9,327.7 451.7,325.6 453.2,324.5 455.6,324.3 457.1,326.4 459.4,326.9 460.9,327.4 462.5,331.5 463.2,332.0 465.3,332.9 467.1,333.3 468.6,331.4 470.9,332.0 472.9,330.2 474.7,330.7 476.3,330.7 478.6,332.0 480.0,333.2 482.4,334.6 484.3,336.7 486.2,337.1 488.2,335.6 490.1,333.3 490.7,331.5 491.3,328.2 492.5,327.9 492.6,324.3 494.9,324.2 496.5,323.1 500.3,323.1 502.0,321.7 504.1,321.8 505.8,321.9 508.0,324.3 509.5,322.4 510.9,320.6 511.8,319.2 514.2,318.2 515.6,315.4 519.5,315.4 520.9,315.3 523.3,316.7 525.7,317.9 527.1,319.2 531.0,319.2 532.8,320.9 533.5,323.1 534.4,325.9 536.1,328.2 538.7,330.7 540.9,328.2 542.5,326.9 544.0,325.2 546.3,324.3 548.7,324.4 550.2,323.1 551.7,320.5 554.0,319.2 555.5,318.7 557.8,320.5 560.1,318.4 561.7,317.9 563.0,319.5 563.9,322.0 565.5,323.1 567.0,322.1 569.3,320.5 570.2,318.6 571.6,316.5 573.2,315.4 575.6,317.5 577.0,317.9 578.7,320.2 580.8,320.5 582.5,319.6 584.7,319.2 587.0,320.9 588.5,321.8 589.4,321.3 590.8,317.7 592.3,316.7 594.5,315.6 596.2,315.4 597.9,314.9 600.0,316.7 601.5,316.2 603.8,315.4 605.5,316.9 607.7,317.9 609.5,318.5 611.5,319.2 613.9,320.5 615.4,321.8 617.3,324.0 619.2,324.3 620.8,324.7 623.0,326.9 626.9,326.9 629.2,326.4 630.7,324.3 632.3,324.2 634.5,325.6 636.7,325.5 638.4,323.1 640.0,322.3 642.2,319.2 644.5,318.8 646.0,317.9 648.6,315.4 650.4,316.3 652.4,319.2 653.9,319.8 656.3,317.9 657.9,319.1 660.1,319.2 661.8,318.8 663.9,316.7 664.9,314.0 665.3,313.0 666.5,310.3 670.3,310.3 670.5,307.3 671.7,306.7 672.4,303.0 672.9,301.3 675.2,301.2 676.7,302.6 680.0,303.9 683.8,303.1 685.2,303.5 687.7,305.2 689.5,303.4 691.5,303.9 692.4,301.8 694.1,299.5 695.3,298.8 697.1,298.5 699.2,296.2 701.0,294.7 701.7,292.4 702.4,294.6 702.4,295.3 702.8,299.6 704.0,301.8 704.3,302.6 704.0,300.9 704.8,299.1 704.9,297.8 704.9,294.5 705.6,292.4 707.7,291.5 709.4,288.5 711.6,288.4 713.2,287.3 715.5,287.1 717.1,284.7 717.8,283.1 719.2,281.4 719.6,278.3 720.2,276.8 721.3,274.0 721.7,271.3 722.2,269.4 723.0,267.1 723.1,264.6 724.2,261.7 725.6,265.2 726.0,266.8 728.6,269.4 730.1,271.0 731.1,273.2 733.3,272.8 735.0,271.9 737.5,274.5 740.1,277.0 741.9,276.0 743.9,273.2 745.0,275.8 747.0,277.0 747.6,279.0 749.2,279.7 750.3,282.1 752.0,284.1 753.4,286.0 756.2,288.5 757.8,287.1 759.3,283.4 760.0,280.0 761.1,279.6 762.3,277.0 763.7,274.9 765.6,274.5 767.7,276.8 769.0,278.3 772.0,280.9 775.1,282.1 778.4,280.9 780.0,283.8 781.8,284.7 784.8,282.1 786.6,280.7 788.7,278.3 790.3,279.4 792.5,280.9 794.7,281.3 796.3,279.6 798.6,278.7 800.2,278.3 801.1,275.7 801.5,274.0 802.7,271.9 803.5,270.6 803.8,268.6 803.8,264.4 804.5,263.0 805.1,264.5 805.6,267.0 806.5,269.4 809.1,269.4 810.5,271.3 811.7,273.2 813.4,275.4 815.5,275.8 817.9,276.9 819.3,278.3 820.0,278.8 821.9,280.5 822.7,283.4 825.7,282.1 827.5,284.3 828.8,286.0 830.3,288.7 832.1,289.8 832.9,290.8 834.7,293.7 837.2,294.9 838.5,291.8 839.8,291.1 841.4,287.9 842.3,286.0 842.8,282.7 844.2,281.6 844.9,279.6 846.3,278.1 847.5,275.8 849.1,275.0 850.0,271.9 851.5,273.1 852.6,275.8 854.2,273.0 855.9,271.9 856.7,269.3 858.4,266.8 861.5,264.3 864.1,263.0 865.8,264.1 867.1,266.8 868.6,267.7 870.5,269.4 873.8,268.1 876.9,270.6 880.2,271.9 883.2,273.2 884.7,275.8 885.8,278.3 886.6,276.7 887.0,274.6 888.1,270.5 888.4,269.4 890.5,268.0 891.7,265.5 892.8,263.5 894.8,261.7 897.8,260.4 899.6,262.8 901.1,263.0 904.5,264.3 905.0,262.5 906.1,261.2 906.8,258.4 907.0,256.6 907.8,253.3 908.4,252.3 908.8,248.9 911.4,246.4 912.0,244.7 912.0,242.9 913.2,240.9 913.2,237.4 916.5,236.1 919.0,234.9 920.4,238.2 921.6,240.0 922.7,239.1 924.2,236.1 926.7,233.6 929.3,231.0 930.9,228.7 931.8,227.2" fill="none" stroke="#adadad" stroke-width="3.9" stroke-linejoin="round" stroke-linecap="round"/>
<line x1="435.6" y1="348.6" x2="690.0" y2="348.6" stroke="#b00020" stroke-width="1.6" stroke-dasharray="4.5 3"/>
<line x1="744.0" y1="334.0" x2="933.0" y2="334.0" stroke="#b00020" stroke-width="1.6" stroke-dasharray="4.5 3"/>
<line x1="510.5" y1="195.7" x2="545.5" y2="195.7" stroke="#2f5597" stroke-width="3.6" stroke-linecap="round"/>
<text x="551.5" textLength="116.9" lengthAdjust="spacingAndGlyphs" stroke="#595959" stroke-width="0.1" y="200.3" font-size="14.30" fill="#595959">Volatility 30 Days</text>
<line x1="510.5" y1="226.6" x2="545.5" y2="226.6" stroke="#ababab" stroke-width="3.6" stroke-linecap="round"/>
<text x="551.5" textLength="68.0" lengthAdjust="spacingAndGlyphs" stroke="#595959" stroke-width="0.1" y="231.2" font-size="14.30" fill="#595959">Gold Price</text>
<text class="th" transform="translate(442.8,471.6) rotate(-90)" x="0" y="0" font-size="15.60" fill="#595959" textLength="44.8" lengthAdjust="spacingAndGlyphs">ม.ค. 58</text>
<text class="th" transform="translate(494.0,471.6) rotate(-90)" x="0" y="0" font-size="15.60" fill="#595959" textLength="44.6" lengthAdjust="spacingAndGlyphs">ม.ค. 59</text>
<text class="th" transform="translate(545.3,471.6) rotate(-90)" x="0" y="0" font-size="15.60" fill="#595959" textLength="46.8" lengthAdjust="spacingAndGlyphs">ม.ค. 60</text>
<text class="th" transform="translate(596.6,471.6) rotate(-90)" x="0" y="0" font-size="15.60" fill="#595959" textLength="41.3" lengthAdjust="spacingAndGlyphs">ม.ค. 61</text>
<text class="th" transform="translate(647.8,471.6) rotate(-90)" x="0" y="0" font-size="15.60" fill="#595959" textLength="44.6" lengthAdjust="spacingAndGlyphs">ม.ค. 62</text>
<text class="th" transform="translate(699.1,471.6) rotate(-90)" x="0" y="0" font-size="15.60" fill="#595959" textLength="44.6" lengthAdjust="spacingAndGlyphs">ม.ค. 63</text>
<text class="th" transform="translate(750.3,471.6) rotate(-90)" x="0" y="0" font-size="15.60" fill="#595959" textLength="45.1" lengthAdjust="spacingAndGlyphs">ม.ค. 64</text>
<text class="th" transform="translate(801.6,471.6) rotate(-90)" x="0" y="0" font-size="15.60" fill="#595959" textLength="44.6" lengthAdjust="spacingAndGlyphs">ม.ค. 65</text>
<text class="th" transform="translate(852.9,471.6) rotate(-90)" x="0" y="0" font-size="15.60" fill="#595959" textLength="45.6" lengthAdjust="spacingAndGlyphs">ม.ค. 66</text>
<text class="th" transform="translate(904.1,471.6) rotate(-90)" x="0" y="0" font-size="15.60" fill="#595959" textLength="44.5" lengthAdjust="spacingAndGlyphs">ม.ค. 67</text>
<text class="th" x="20.6" y="533.4" font-size="26.07" fill="#1c2b50" stroke="#1c2b50" stroke-width="0.3" textLength="667.4" lengthAdjust="spacingAndGlyphs">ปัจจัยพื้นฐานทางเศรษฐกิจที่เปราะบางมากขึ้นกว่าช่วงที่ก่อนโควิด</text>
<text class="th" x="52.2" y="561.0" font-size="13.80" fill="#8c8c8c" textLength="125.8" lengthAdjust="spacingAndGlyphs">พันล้านดอลล่าร์สรอ.</text>
<text class="th" x="841.0" y="556.2" font-size="13.80" fill="#8c8c8c" textLength="134.8" lengthAdjust="spacingAndGlyphs">ผลตอบแทนค่าเงินบาท</text>
<text x="54.6" textLength="19.4" lengthAdjust="spacingAndGlyphs" stroke="#595959" stroke-width="0.1" y="583.4" font-size="14.60" fill="#595959">40</text>
<text x="54.6" textLength="19.4" lengthAdjust="spacingAndGlyphs" stroke="#595959" stroke-width="0.1" y="632.4" font-size="14.60" fill="#595959">30</text>
<text x="54.6" textLength="19.4" lengthAdjust="spacingAndGlyphs" stroke="#595959" stroke-width="0.1" y="681.3" font-size="14.60" fill="#595959">20</text>
<text x="54.6" textLength="19.4" lengthAdjust="spacingAndGlyphs" stroke="#595959" stroke-width="0.1" y="730.2" font-size="14.60" fill="#595959">10</text>
<text x="64.3" textLength="9.7" lengthAdjust="spacingAndGlyphs" stroke="#595959" stroke-width="0.1" y="779.1" font-size="14.60" fill="#595959">0</text>
<text x="48.5" textLength="25.5" lengthAdjust="spacingAndGlyphs" stroke="#595959" stroke-width="0.1" y="828.1" font-size="14.60" fill="#595959">-10</text>
<text x="48.5" textLength="25.5" lengthAdjust="spacingAndGlyphs" stroke="#595959" stroke-width="0.1" y="877.0" font-size="14.60" fill="#595959">-20</text>
<text x="945.4" textLength="27.5" lengthAdjust="spacingAndGlyphs" stroke="#595959" stroke-width="0.1" y="583.4" font-size="14.60" fill="#595959">15%</text>
<text x="945.4" textLength="27.8" lengthAdjust="spacingAndGlyphs" stroke="#595959" stroke-width="0.1" y="632.4" font-size="14.60" fill="#595959">10%</text>
<text x="945.4" textLength="20.0" lengthAdjust="spacingAndGlyphs" stroke="#595959" stroke-width="0.1" y="681.3" font-size="14.60" fill="#595959">5%</text>
<text x="945.4" textLength="20.3" lengthAdjust="spacingAndGlyphs" stroke="#595959" stroke-width="0.1" y="730.2" font-size="14.60" fill="#595959">0%</text>
<text x="945.4" textLength="27.0" lengthAdjust="spacingAndGlyphs" stroke="#595959" stroke-width="0.1" y="779.1" font-size="14.60" fill="#595959">-5%</text>
<text x="945.4" textLength="34.6" lengthAdjust="spacingAndGlyphs" stroke="#595959" stroke-width="0.1" y="828.1" font-size="14.60" fill="#595959">-10%</text>
<text x="945.4" textLength="34.9" lengthAdjust="spacingAndGlyphs" stroke="#595959" stroke-width="0.1" y="877.0" font-size="14.60" fill="#595959">-15%</text>
<line x1="92.5" y1="774.1" x2="927.2" y2="774.1" stroke="#d9d9d9" stroke-width="1.2"/>
<text x="103.6" textLength="37.4" lengthAdjust="spacingAndGlyphs" stroke="#404040" stroke-width="0.1" y="903.3" font-size="14.80" fill="#404040">2553</text>
<text x="163.2" textLength="37.4" lengthAdjust="spacingAndGlyphs" stroke="#404040" stroke-width="0.1" y="903.3" font-size="14.80" fill="#404040">2554</text>
<text x="222.8" textLength="37.4" lengthAdjust="spacingAndGlyphs" stroke="#404040" stroke-width="0.1" y="903.3" font-size="14.80" fill="#404040">2555</text>
<text x="282.3" textLength="37.4" lengthAdjust="spacingAndGlyphs" stroke="#404040" stroke-width="0.1" y="903.3" font-size="14.80" fill="#404040">2556</text>
<text x="341.9" textLength="37.4" lengthAdjust="spacingAndGlyphs" stroke="#404040" stroke-width="0.1" y="903.3" font-size="14.80" fill="#404040">2557</text>
<text x="401.5" textLength="37.4" lengthAdjust="spacingAndGlyphs" stroke="#404040" stroke-width="0.1" y="903.3" font-size="14.80" fill="#404040">2558</text>
<text x="461.1" textLength="37.4" lengthAdjust="spacingAndGlyphs" stroke="#404040" stroke-width="0.1" y="903.3" font-size="14.80" fill="#404040">2559</text>
<text x="520.7" textLength="37.4" lengthAdjust="spacingAndGlyphs" stroke="#404040" stroke-width="0.1" y="903.3" font-size="14.80" fill="#404040">2560</text>
<text x="580.2" textLength="37.4" lengthAdjust="spacingAndGlyphs" stroke="#404040" stroke-width="0.1" y="903.3" font-size="14.80" fill="#404040">2561</text>
<text x="639.8" textLength="37.4" lengthAdjust="spacingAndGlyphs" stroke="#404040" stroke-width="0.1" y="903.3" font-size="14.80" fill="#404040">2562</text>
<text x="699.4" textLength="37.4" lengthAdjust="spacingAndGlyphs" stroke="#404040" stroke-width="0.1" y="903.3" font-size="14.80" fill="#404040">2563</text>
<text x="759.0" textLength="37.4" lengthAdjust="spacingAndGlyphs" stroke="#404040" stroke-width="0.1" y="903.3" font-size="14.80" fill="#404040">2564</text>
<text x="818.6" textLength="37.4" lengthAdjust="spacingAndGlyphs" stroke="#404040" stroke-width="0.1" y="903.3" font-size="14.80" fill="#404040">2565</text>
<text x="878.1" textLength="37.4" lengthAdjust="spacingAndGlyphs" stroke="#404040" stroke-width="0.1" y="903.3" font-size="14.80" fill="#404040">2566</text>
<polyline points="181.1,771.3 242.0,748.0 301.0,798.7 361.0,780.8 419.5,746.5 479.5,712.2 540.3,648.0 599.0,737.5 659.6,705.6 719.3,684.7 777.6,809.4 837.7,824.1 898.3,761.5" fill="none" stroke="#adb9ca" stroke-width="3.6" stroke-linejoin="miter" stroke-linecap="round"/>
<polyline points="121.4,616.3 181.1,771.4 241.0,693.8 300.4,787.7 360.4,730.4 418.9,808.9 478.8,719.8 538.8,626.5 598.4,717.5 658.1,638.4 717.8,732.4 776.7,819.8 836.2,763.7 896.2,715.1" fill="none" stroke="#10204f" stroke-width="3.7" stroke-linejoin="round" stroke-linecap="round"/>
<circle cx="121.4" cy="616.3" r="6.2" fill="#ffffff" stroke="#10204f" stroke-width="1.2"/>
<circle cx="181.1" cy="771.4" r="6.2" fill="#ffffff" stroke="#10204f" stroke-width="1.2"/>
<circle cx="241.0" cy="693.8" r="6.2" fill="#ffffff" stroke="#10204f" stroke-width="1.2"/>
<circle cx="300.4" cy="787.7" r="6.2" fill="#ffffff" stroke="#10204f" stroke-width="1.2"/>
<circle cx="360.4" cy="730.4" r="6.2" fill="#ffffff" stroke="#10204f" stroke-width="1.2"/>
<circle cx="418.9" cy="808.9" r="6.2" fill="#ffffff" stroke="#10204f" stroke-width="1.2"/>
<circle cx="478.8" cy="719.8" r="6.2" fill="#ffffff" stroke="#10204f" stroke-width="1.2"/>
<circle cx="538.8" cy="626.5" r="6.2" fill="#ffffff" stroke="#10204f" stroke-width="1.2"/>
<circle cx="598.4" cy="717.5" r="6.2" fill="#ffffff" stroke="#10204f" stroke-width="1.2"/>
<circle cx="658.1" cy="638.4" r="6.2" fill="#ffffff" stroke="#10204f" stroke-width="1.2"/>
<circle cx="717.8" cy="732.4" r="6.2" fill="#ffffff" stroke="#10204f" stroke-width="1.2"/>
<circle cx="776.7" cy="819.8" r="6.2" fill="#ffffff" stroke="#10204f" stroke-width="1.2"/>
<circle cx="836.2" cy="763.7" r="6.2" fill="#ffffff" stroke="#10204f" stroke-width="1.2"/>
<circle cx="896.2" cy="715.1" r="6.2" fill="#ffffff" stroke="#10204f" stroke-width="1.2"/>
<line x1="268.5" y1="593.4" x2="305.0" y2="593.4" stroke="#adb9ca" stroke-width="3.6" stroke-linecap="round"/>
<text class="th" x="307.3" y="599.1" font-size="20.20" fill="#404040" textLength="123.2" lengthAdjust="spacingAndGlyphs">ดุลการชำระเงิน</text>
<line x1="455.0" y1="593.4" x2="491.0" y2="593.4" stroke="#10204f" stroke-width="3.7" stroke-linecap="round"/>
<circle cx="472.9" cy="593.4" r="4.7" fill="#ffffff" stroke="#10204f" stroke-width="1.2"/>
<text class="th" x="495.2" y="599.0" font-size="20.02" fill="#404040" textLength="178.8" lengthAdjust="spacingAndGlyphs">ผลตอบแทนค่าเงินบาท</text>
<text class="th" x="93.0" y="877.3" font-size="19.77" font-style="italic" fill="#a6a6a6" textLength="238.0" lengthAdjust="spacingAndGlyphs">( - ) : ดุลการชำระเงิน "ขาดดุล"</text>
<text class="th" x="744.0" y="875.4" font-size="19.89" font-style="italic" fill="#a6a6a6" textLength="183.2" lengthAdjust="spacingAndGlyphs">( - ) : เงินบาทอ่อนค่าลง</text>
<rect x="1058.5" y="108.6" width="681.9" height="37.4" rx="7" ry="7" fill="#062268"/>
<text class="th" x="1086.4" y="135.8" font-size="23.80" fill="#ffffff" stroke="#ffffff" stroke-width="0.4" textLength="541.6" lengthAdjust="spacingAndGlyphs">ความผันผวนของเงินภูมิภาคปรับเพิ่มขึ้นหลังเข้าสู่ไตรมาสที่</text>
<text class="th" x="1638.6" y="135.8" font-size="23.80" fill="#ffffff" stroke="#ffffff" stroke-width="0.4" textLength="74.7" lengthAdjust="spacingAndGlyphs">3/2567</text>
<text x="1078.7" text-anchor="middle" stroke="#7f7f7f" stroke-width="0.1" y="165.4" font-size="12.50" fill="#7f7f7f">%</text>
<text x="1065.8" textLength="16.6" lengthAdjust="spacingAndGlyphs" stroke="#595959" stroke-width="0.1" y="193.0" font-size="15.60" fill="#595959">10</text>
<text x="1072.9" textLength="9.5" lengthAdjust="spacingAndGlyphs" stroke="#595959" stroke-width="0.1" y="241.5" font-size="15.60" fill="#595959">8</text>
<text x="1072.9" textLength="9.5" lengthAdjust="spacingAndGlyphs" stroke="#595959" stroke-width="0.1" y="289.9" font-size="15.60" fill="#595959">6</text>
<text x="1072.9" textLength="9.5" lengthAdjust="spacingAndGlyphs" stroke="#595959" stroke-width="0.1" y="338.4" font-size="15.60" fill="#595959">4</text>
<text x="1072.9" textLength="9.5" lengthAdjust="spacingAndGlyphs" stroke="#595959" stroke-width="0.1" y="386.9" font-size="15.60" fill="#595959">2</text>
<text x="1072.9" textLength="9.5" lengthAdjust="spacingAndGlyphs" stroke="#595959" stroke-width="0.1" y="435.4" font-size="15.60" fill="#595959">0</text>
<line x1="1100.2" y1="430.0" x2="1733.0" y2="430.0" stroke="#d9d9d9" stroke-width="1.2"/>
<polyline points="1100.5,391.0 1118.7,391.0 1134.1,389.9 1147.5,388.5 1166.7,388.5 1185.8,389.1 1194.4,391.4 1201.2,396.2 1210.7,388.5 1224.2,389.5 1254.8,389.5 1264.4,387.9 1274.0,386.0 1291.2,384.1 1320.0,383.7 1337.2,383.7 1346.8,380.9 1358.3,374.2 1368.8,368.0 1381.3,367.4 1396.6,367.4 1408.1,364.6 1420.0,361.7 1434.0,351.3 1438.9,334.0 1441.7,316.8 1461.0,315.3 1480.0,314.0 1497.3,311.5 1528.0,311.0 1547.0,310.7 1562.5,307.6 1579.7,302.5 1604.6,300.5 1633.4,298.6 1654.5,298.0 1669.8,295.4 1690.9,296.7 1729.2,296.7" fill="none" stroke="#8497b0" stroke-width="3.8" stroke-linejoin="round" stroke-linecap="round" stroke-dasharray="7.6 9.6"/>
<polyline points="1100.5,348.9 1109.2,347.3 1124.5,346.9 1134.1,340.6 1145.6,338.7 1162.8,339.7 1185.8,341.2 1197.3,344.4 1208.8,348.9 1235.6,348.9 1262.5,348.3 1274.0,350.2 1285.1,351.5 1296.0,348.3 1306.6,348.9 1320.0,350.2 1339.1,350.8 1358.3,350.8 1377.5,351.5 1396.6,351.5 1415.8,351.5 1424.5,351.7 1441.7,350.4 1459.0,344.6 1474.3,340.2 1489.7,338.9 1503.0,338.3 1514.6,335.0 1526.0,333.1 1547.2,335.0 1560.6,337.5 1570.0,333.1 1579.7,331.8 1591.2,338.9 1604.6,333.1 1621.9,323.5 1643.0,323.0 1662.0,324.5 1681.3,323.5 1694.7,322.6 1708.0,317.8 1721.5,318.4" fill="none" stroke="#70ad47" stroke-width="3.8" stroke-linejoin="round" stroke-linecap="round" stroke-dasharray="7.6 9.6"/>
<polyline points="1100.5,302.3 1109.2,306.1 1118.7,311.9 1128.3,310.0 1147.5,305.2 1162.8,304.2 1178.2,304.8 1193.5,307.5 1208.8,309.0 1220.3,314.4 1231.8,315.7 1254.8,314.4 1264.4,313.8 1274.9,310.0 1285.1,310.5 1300.8,310.5 1320.0,311.9 1329.6,313.8 1339.1,319.0 1354.5,318.2 1368.8,316.7 1377.5,320.5 1389.0,326.2 1400.5,332.0 1412.0,334.3 1413.0,334.8 1424.5,338.6 1437.9,339.0 1451.3,339.6 1470.5,339.6 1485.8,340.2 1493.5,329.1 1501.2,312.8 1512.7,311.4 1528.0,311.4 1543.3,314.1 1554.8,310.9 1562.5,300.3 1569.2,290.7 1585.5,290.2 1597.0,287.9 1614.2,282.1 1629.6,275.0 1643.0,268.7 1652.6,259.1 1662.1,254.7 1681.3,254.3 1696.6,254.3 1710.0,251.4 1721.5,254.3" fill="none" stroke="#a6a6a6" stroke-width="3.8" stroke-linejoin="round" stroke-linecap="round" stroke-dasharray="7.6 9.6"/>
<polyline points="1100.5,283.1 1107.2,285.0 1115.9,283.7 1126.4,286.4 1137.9,286.4 1147.5,285.2 1162.8,285.2 1179.1,285.2 1189.7,292.7 1201.2,293.7 1211.1,289.4 1222.2,295.6 1235.6,295.6 1254.8,295.6 1264.4,291.7 1274.9,293.3 1285.1,312.8 1296.0,305.2 1306.6,305.7 1327.6,305.7 1337.2,302.3 1348.7,303.2 1358.3,298.5 1368.8,290.8 1389.0,291.4 1412.0,291.4 1413.0,289.8 1421.6,277.3 1432.2,277.7 1444.6,271.2 1460.9,270.0 1474.3,269.3 1485.8,279.6 1495.4,276.9 1506.9,264.9 1520.3,264.9 1535.7,266.8 1551.0,267.4 1570.1,264.3 1580.7,265.2 1591.2,240.5 1604.6,239.4 1620.0,237.5 1633.4,235.7 1644.9,237.1 1652.6,225.6 1665.0,194.9 1690.9,194.5 1715.8,194.3 1729.2,201.0" fill="none" stroke="#000000" stroke-width="4.6" stroke-linejoin="round" stroke-linecap="round"/>
<polyline points="1100.5,269.1 1109.2,270.3 1118.7,273.5 1128.3,271.6 1137.0,268.7 1147.5,272.2 1166.7,274.1 1182.0,276.0 1193.5,279.3 1205.0,286.0 1214.6,290.8 1228.0,292.7 1254.8,292.7 1264.4,291.4 1274.9,291.4 1285.1,295.6 1296.0,302.3 1306.6,303.2 1327.6,302.9 1337.2,301.3 1348.7,300.9 1358.3,299.8 1368.8,300.9 1389.0,301.3 1408.1,300.9 1413.0,297.4 1421.6,285.0 1432.2,284.6 1447.5,279.2 1466.7,274.4 1478.2,265.8 1489.7,262.0 1499.2,268.1 1512.7,265.8 1528.0,262.6 1547.2,261.0 1566.3,260.5 1579.7,260.1 1591.2,252.4 1604.6,245.7 1620.0,238.0 1633.4,234.2 1644.9,233.2 1654.5,229.4 1666.0,221.7 1681.3,225.6 1696.6,228.5 1712.0,227.5 1719.6,225.6 1729.2,229.4" fill="none" stroke="#f4b183" stroke-width="3.8" stroke-linejoin="round" stroke-linecap="round" stroke-dasharray="7.6 9.6"/>
<line x1="1140.0" y1="193.5" x2="1187.5" y2="193.5" stroke="#000000" stroke-width="4.6" stroke-linecap="round"/>
<text x="1193.6" textLength="25.9" lengthAdjust="spacingAndGlyphs" stroke="#595959" stroke-width="0.1" y="197.8" font-size="12.70" fill="#595959">THB</text>
<line x1="1244.0" y1="193.5" x2="1288.0" y2="193.5" stroke="#a6a6a6" stroke-width="3.8" stroke-linecap="round" stroke-dasharray="7.8 10.2"/>
<text x="1296.4" textLength="22.3" lengthAdjust="spacingAndGlyphs" stroke="#595959" stroke-width="0.1" y="197.8" font-size="12.70" fill="#595959">IDR</text>
<line x1="1348.0" y1="193.5" x2="1392.0" y2="193.5" stroke="#f4b183" stroke-width="3.8" stroke-linecap="round" stroke-dasharray="7.8 10.2"/>
<text x="1399.4" textLength="30.3" lengthAdjust="spacingAndGlyphs" stroke="#595959" stroke-width="0.1" y="197.8" font-size="12.70" fill="#595959">KRW</text>
<line x1="1140.0" y1="224.8" x2="1184.0" y2="224.8" stroke="#70ad47" stroke-width="3.8" stroke-linecap="round" stroke-dasharray="7.8 10.2"/>
<text x="1193.2" textLength="30.1" lengthAdjust="spacingAndGlyphs" stroke="#595959" stroke-width="0.1" y="229.1" font-size="12.70" fill="#595959">TWD</text>
<line x1="1244.0" y1="224.8" x2="1288.0" y2="224.8" stroke="#8497b0" stroke-width="3.8" stroke-linecap="round" stroke-dasharray="7.8 10.2"/>
<text x="1296.4" textLength="28.7" lengthAdjust="spacingAndGlyphs" stroke="#595959" stroke-width="0.1" y="229.1" font-size="12.70" fill="#595959">CNH</text>
<text class="th" x="1080.3" y="461.7" font-size="17.48" fill="#595959" textLength="50.0" lengthAdjust="spacingAndGlyphs">ก.ค. 67</text>
<text class="th" x="1154.0" y="461.7" font-size="17.48" fill="#595959" textLength="50.0" lengthAdjust="spacingAndGlyphs">ก.ค. 67</text>
<text class="th" x="1227.7" y="461.7" font-size="17.48" fill="#595959" textLength="50.0" lengthAdjust="spacingAndGlyphs">ก.ค. 67</text>
<text class="th" x="1301.5" y="461.7" font-size="17.48" fill="#595959" textLength="50.0" lengthAdjust="spacingAndGlyphs">ก.ค. 67</text>
<text class="th" x="1375.2" y="461.7" font-size="17.48" fill="#595959" textLength="50.0" lengthAdjust="spacingAndGlyphs">ก.ค. 67</text>
<text class="th" x="1448.9" y="461.8" font-size="17.61" fill="#595959" textLength="50.0" lengthAdjust="spacingAndGlyphs">ส.ค. 67</text>
<text class="th" x="1522.6" y="461.8" font-size="17.61" fill="#595959" textLength="50.0" lengthAdjust="spacingAndGlyphs">ส.ค. 67</text>
<text class="th" x="1596.3" y="461.8" font-size="17.61" fill="#595959" textLength="50.0" lengthAdjust="spacingAndGlyphs">ส.ค. 67</text>
<text class="th" x="1670.1" y="461.8" font-size="17.61" fill="#595959" textLength="50.0" lengthAdjust="spacingAndGlyphs">ส.ค. 67</text>
<text x="1089.4" textLength="242.2" lengthAdjust="spacingAndGlyphs" stroke="#808080" stroke-width="0.1" y="495.2" font-size="15.40" fill="#808080">Note: Realized volatility 30 days</text>
<rect x="1059" y="508.6" width="681.4" height="38.2" rx="7" ry="7" fill="#062268"/>
<text class="th" x="1077.3" y="534.3" font-size="23.66" fill="#ffffff" stroke="#ffffff" stroke-width="0.4" textLength="645.7" lengthAdjust="spacingAndGlyphs">ผลตอบแทนของค่าเงินบาทถูกอธิบายด้วยทองคำมากขึ้นช่วงหลังโควิด</text>
<text x="1072.9" textLength="31.3" lengthAdjust="spacingAndGlyphs" stroke="#595959" stroke-width="0.1" y="572.4" font-size="15.60" fill="#595959">35%</text>
<text x="1072.9" textLength="31.3" lengthAdjust="spacingAndGlyphs" stroke="#595959" stroke-width="0.1" y="606.6" font-size="15.60" fill="#595959">30%</text>
<text x="1072.9" textLength="31.3" lengthAdjust="spacingAndGlyphs" stroke="#595959" stroke-width="0.1" y="640.8" font-size="15.60" fill="#595959">25%</text>
<text x="1072.9" textLength="31.3" lengthAdjust="spacingAndGlyphs" stroke="#595959" stroke-width="0.1" y="675.0" font-size="15.60" fill="#595959">20%</text>
<text x="1072.9" textLength="31.3" lengthAdjust="spacingAndGlyphs" stroke="#595959" stroke-width="0.1" y="709.2" font-size="15.60" fill="#595959">15%</text>
<text x="1072.9" textLength="31.3" lengthAdjust="spacingAndGlyphs" stroke="#595959" stroke-width="0.1" y="743.4" font-size="15.60" fill="#595959">10%</text>
<text x="1082.4" textLength="21.8" lengthAdjust="spacingAndGlyphs" stroke="#595959" stroke-width="0.1" y="777.6" font-size="15.60" fill="#595959">5%</text>
<text x="1082.4" textLength="21.8" lengthAdjust="spacingAndGlyphs" stroke="#595959" stroke-width="0.1" y="811.8" font-size="15.60" fill="#595959">0%</text>
<line x1="1120.8" y1="806.3" x2="1710.6" y2="806.3" stroke="#d9d9d9" stroke-width="1.2"/>
<rect x="1140.0" y="679.9" width="40.2" height="126.4" fill="#b4c7e7"/>
<rect x="1213.4" y="805.2" width="40.2" height="1.1" fill="#b4c7e7"/>
<rect x="1286.9" y="803.7" width="40.2" height="2.6" fill="#b4c7e7"/>
<rect x="1360.3" y="802.7" width="40.2" height="3.6" fill="#b4c7e7"/>
<rect x="1433.8" y="803.3" width="40.2" height="3.0" fill="#b4c7e7"/>
<rect x="1507.2" y="804.3" width="40.2" height="2.0" fill="#b4c7e7"/>
<rect x="1580.7" y="805.3" width="40.2" height="1.0" fill="#b4c7e7"/>
<rect x="1654.1" y="772.0" width="40.2" height="34.3" fill="#b4c7e7"/>
<circle cx="1160.0" cy="591.8" r="9.1" fill="#2a4375"/>
<circle cx="1233.5" cy="803.3" r="9.1" fill="#2a4375"/>
<circle cx="1307.0" cy="798.1" r="9.1" fill="#2a4375"/>
<circle cx="1380.4" cy="798.1" r="9.1" fill="#2a4375"/>
<circle cx="1453.8" cy="798.1" r="9.1" fill="#2a4375"/>
<circle cx="1527.3" cy="803.3" r="9.1" fill="#2a4375"/>
<circle cx="1600.8" cy="805.3" r="9.1" fill="#2a4375"/>
<circle cx="1674.2" cy="690.3" r="9.1" fill="#2a4375"/>
<text x="1142.8" textLength="34.4" lengthAdjust="spacingAndGlyphs" stroke="#404040" stroke-width="0.1" y="841.2" font-size="17.00" fill="#404040">THB</text>
<text x="1214.8" textLength="37.5" lengthAdjust="spacingAndGlyphs" stroke="#404040" stroke-width="0.1" y="841.2" font-size="17.00" fill="#404040">MYR</text>
<text x="1293.0" textLength="28.0" lengthAdjust="spacingAndGlyphs" stroke="#404040" stroke-width="0.1" y="841.2" font-size="17.00" fill="#404040">IDR</text>
<text x="1366.9" textLength="27.0" lengthAdjust="spacingAndGlyphs" stroke="#404040" stroke-width="0.1" y="841.2" font-size="17.00" fill="#404040">INR</text>
<text x="1434.1" textLength="39.5" lengthAdjust="spacingAndGlyphs" stroke="#404040" stroke-width="0.1" y="841.2" font-size="17.00" fill="#404040">KRW</text>
<text x="1507.8" textLength="39.0" lengthAdjust="spacingAndGlyphs" stroke="#404040" stroke-width="0.1" y="841.2" font-size="17.00" fill="#404040">TWD</text>
<text x="1583.0" textLength="35.5" lengthAdjust="spacingAndGlyphs" stroke="#404040" stroke-width="0.1" y="841.2" font-size="17.00" fill="#404040">PHP</text>
<text x="1655.4" textLength="37.5" lengthAdjust="spacingAndGlyphs" stroke="#404040" stroke-width="0.1" y="841.2" font-size="17.00" fill="#404040">CNH</text>
<rect x="1318.0" y="581.5" width="12.2" height="11.6" fill="#b4c7e7"/>
<text x="1336.3" textLength="102.8" lengthAdjust="spacingAndGlyphs" stroke="#404040" stroke-width="0.1" y="593.1" font-size="17.60" fill="#404040">2558 - 2562</text>
<circle cx="1324.1" cy="611.8" r="5.5" fill="#2a4375"/>
<text x="1336.3" textLength="52.2" lengthAdjust="spacingAndGlyphs" stroke="#404040" stroke-width="0.1" y="617.3" font-size="17.60" fill="#404040">2564 -</text>
<text class="th" x="1396.6" y="616.4" font-size="20.17" fill="#404040" textLength="59.7" lengthAdjust="spacingAndGlyphs">ปัจจุบัน</text>
<text x="1074.7" textLength="586.3" lengthAdjust="spacingAndGlyphs" stroke="#808080" stroke-width="0.1" y="866.7" font-size="14.80" fill="#808080">Note: R-squared obtained from linear regression daily FX return on Gold return</text>
<text class="th" x="1062.1" y="899.8" font-size="20.37" fill="#404040" textLength="33.4" lengthAdjust="spacingAndGlyphs">ที่มา</text>
<text x="1098.5" stroke="#404040" stroke-width="0.1" y="899.8" font-size="17.20" fill="#404040">:</text>
<text x="1107.3" textLength="438.8" lengthAdjust="spacingAndGlyphs" stroke="#404040" stroke-width="0.1" y="899.8" font-size="17.20" fill="#404040">Bloomberg, Bank of Thailand, CEIC, Trade map, MOC</text>
<text class="th" x="1552.8" y="899.8" font-size="17.45" fill="#404040" textLength="25.3" lengthAdjust="spacingAndGlyphs">และ</text>
<text x="1584.2" textLength="21.3" lengthAdjust="spacingAndGlyphs" stroke="#404040" stroke-width="0.1" y="899.8" font-size="17.20" fill="#404040">ttb</text>
<text x="1615.5" textLength="78.3" lengthAdjust="spacingAndGlyphs" stroke="#404040" stroke-width="0.1" y="899.8" font-size="17.20" fill="#404040">analytics</text>
<text x="1062.3" textLength="193.7" lengthAdjust="spacingAndGlyphs" stroke="#404040" stroke-width="0.1" y="919.4" font-size="17.20" fill="#404040">(Data as of 3 Sep 2567)</text>
</svg>
</body></html>
